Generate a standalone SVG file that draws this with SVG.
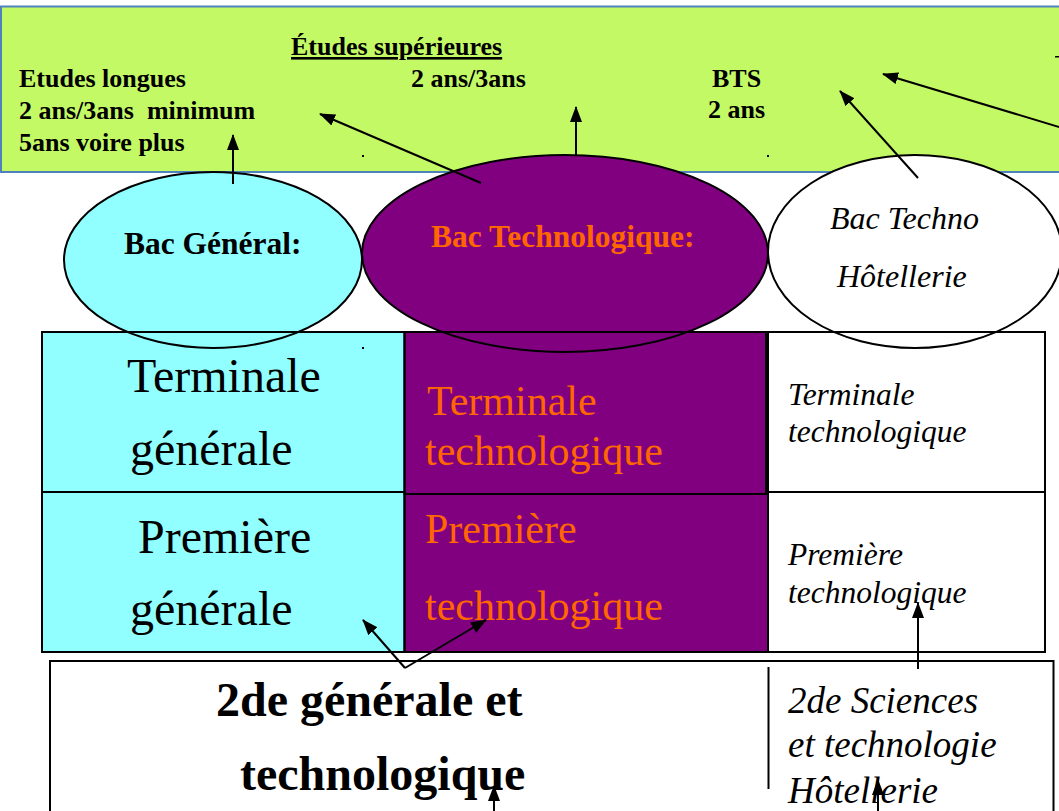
<svg xmlns="http://www.w3.org/2000/svg" width="1059" height="811" viewBox="0 0 1059 811">
<defs>
<marker id="ah" markerUnits="userSpaceOnUse" markerWidth="17" markerHeight="13" refX="15" refY="6" orient="auto">
<path d="M0,0 L16,6 L0,12 z" fill="#000"/>
</marker>
<style>
text{font-family:"Liberation Serif","Times New Roman",serif;}
.tb{font-weight:bold;font-size:26px;fill:#000;white-space:pre;}
.g48{font-size:48px;fill:#000;}
.o42{font-size:42px;fill:#FF6600;}
.i32{font-size:31.5px;font-style:italic;fill:#000;}
.i37{font-size:37px;font-style:italic;fill:#000;}
.b48{font-size:48px;font-weight:bold;fill:#000;}
.b31{font-size:31.5px;font-weight:bold;}
.ln{stroke:#000;stroke-width:2;fill:none;}
.arr{stroke:#000;stroke-width:2;fill:none;marker-end:url(#ah);}
.cell{stroke:#000;stroke-width:2;}
</style>
</defs>
<rect width="1059" height="811" fill="#fff"/>

<g id="etudes-superieures">
<rect x="1" y="6.5" width="1070" height="165.5" fill="#C4F966" stroke="#4F81BD" stroke-width="2"/>
<text class="tb" x="291" y="55" text-decoration="underline">Études supérieures</text>
<text class="tb" x="19" y="87">Etudes longues</text>
<text class="tb" x="19" y="119">2 ans/3ans  minimum</text>
<text class="tb" x="19" y="151">5ans voire plus</text>
<text class="tb" x="411" y="87">2 ans/3ans</text>
<text class="tb" x="712" y="87">BTS</text>
<text class="tb" x="708" y="118">2 ans</text>
<rect x="362" y="155" width="2" height="2" fill="#000"/>
<rect x="767" y="155" width="2" height="2" fill="#000"/>
<rect x="1055" y="56" width="4" height="1.5" fill="#000"/>
</g>

<g id="grid-fills">
<rect x="42" y="332" width="362.5" height="160" fill="#91FFFF"/>
<rect x="42" y="492" width="362.5" height="160" fill="#91FFFF"/>
<rect x="404.5" y="332" width="361.5" height="162" fill="#800080"/>
<rect x="404.5" y="494" width="363.5" height="158" fill="#800080"/>
<rect x="768" y="332" width="277" height="160" fill="#fff"/>
<rect x="768" y="492" width="277" height="160" fill="#fff"/>
</g>

<g id="bac-general">
<ellipse cx="213" cy="260" rx="149" ry="88" fill="#91FFFF" stroke="#000" stroke-width="2"/>
<text class="b31" x="124" y="254" fill="#000">Bac Général:</text>
</g>
<g id="bac-technologique">
<ellipse cx="565" cy="253.5" rx="203" ry="98.5" fill="#800080" stroke="#000" stroke-width="2"/>
<text class="b31" x="431" y="247" fill="#FF6600">Bac Technologique:</text>
</g>
<g id="bac-hotellerie">
<ellipse cx="915" cy="251.5" rx="147" ry="96.5" fill="#fff" stroke="#000" stroke-width="2"/>
<text class="i32" x="830" y="229" style="font-size:32px">Bac Techno</text>
<text class="i32" x="837" y="287" style="font-size:32px">Hôtellerie</text>
</g>

<g id="terminale-generale">
<rect class="cell" x="42" y="332" width="362.5" height="160" fill="none"/>
<text class="g48" x="127" y="392">Terminale</text>
<text class="g48" x="130" y="465">générale</text>
<rect x="362" y="347" width="2" height="2" fill="#000"/>
</g>
<g id="premiere-generale">
<rect class="cell" x="42" y="492" width="362.5" height="160" fill="none"/>
<text class="g48" x="138" y="553">Première</text>
<text class="g48" x="130" y="625">générale</text>
</g>
<g id="terminale-technologique">
<rect class="cell" x="404.5" y="332" width="361.5" height="162" fill="none"/>
<text class="o42" x="427" y="415">Terminale</text>
<text class="o42" x="425" y="465">technologique</text>
</g>
<g id="premiere-technologique">
<rect class="cell" x="404.5" y="494" width="363.5" height="158" fill="none"/>
<text class="o42" x="425" y="543">Première</text>
<text class="o42" x="425" y="620">technologique</text>
</g>
<g id="terminale-hotellerie">
<rect class="cell" x="768" y="332" width="277" height="160" fill="none"/>
<text class="i32" x="788" y="405">Terminale</text>
<text class="i32" x="788" y="442">technologique</text>
</g>
<g id="premiere-hotellerie">
<rect class="cell" x="768" y="492" width="277" height="160" fill="none"/>
<text class="i32" x="788" y="565">Première</text>
<text class="i32" x="788" y="603">technologique</text>
</g>

<g id="seconde">
<rect x="50" y="661" width="1003.5" height="170" fill="#fff" stroke="#000" stroke-width="2"/>
<line class="ln" x1="768.5" y1="667" x2="768.5" y2="789"/>
<text class="b48" x="216" y="716">2de générale et</text>
<text class="b48" x="240" y="790">technologique</text>
<text class="i37" x="788" y="713">2de Sciences</text>
<text class="i37" x="788" y="757">et technologie</text>
<text class="i37" x="788" y="803">Hôtellerie</text>
</g>

<g id="connectors">
<line class="arr" x1="233" y1="184" x2="233" y2="135"/>
<line class="arr" x1="481" y1="183" x2="320" y2="114"/>
<line class="arr" x1="576" y1="155" x2="576" y2="107"/>
<line class="arr" x1="918" y1="178" x2="840" y2="91"/>
<line class="arr" x1="1070" y1="130.3" x2="883" y2="74"/>
<line class="arr" x1="405" y1="668" x2="363" y2="620"/>
<line class="arr" x1="405" y1="668" x2="486" y2="620"/>
<line class="arr" x1="918" y1="669" x2="918" y2="603"/>
<line class="arr" x1="878" y1="815" x2="878" y2="780"/>
<line class="arr" x1="494" y1="815" x2="494" y2="786"/>
</g>
</svg>
